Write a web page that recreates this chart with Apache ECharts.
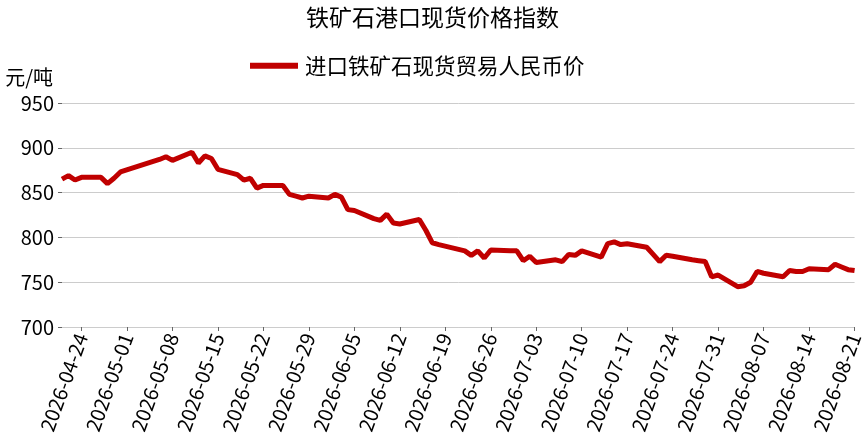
<!DOCTYPE html>
<html>
<head>
<meta charset="utf-8">
<script src="https://cdn.jsdelivr.net/npm/echarts@6/dist/echarts.min.js"></script>
<style>
  html, body { margin: 0; padding: 0; background: #fff; }
  #chart { width: 865px; height: 447px; }
</style>
</head>
<body>
<div id="chart"></div>
<script>
// trading days and index values (元/吨)
const tradeDates = [
  '2026-04-21', '2026-04-22', '2026-04-23', '2026-04-24', '2026-04-27', '2026-04-28', '2026-04-29', '2026-04-30',
  '2026-05-06', '2026-05-07', '2026-05-08', '2026-05-11', '2026-05-12', '2026-05-13', '2026-05-14', '2026-05-15',
  '2026-05-18', '2026-05-19', '2026-05-20', '2026-05-21', '2026-05-22', '2026-05-25', '2026-05-26', '2026-05-27',
  '2026-05-28', '2026-05-29', '2026-06-01', '2026-06-02', '2026-06-03', '2026-06-04', '2026-06-05', '2026-06-08',
  '2026-06-09', '2026-06-10', '2026-06-11', '2026-06-12', '2026-06-15', '2026-06-16', '2026-06-17', '2026-06-18',
  '2026-06-22', '2026-06-23', '2026-06-24', '2026-06-25', '2026-06-26', '2026-06-29', '2026-06-30', '2026-07-01',
  '2026-07-02', '2026-07-03', '2026-07-06', '2026-07-07', '2026-07-08', '2026-07-09', '2026-07-10', '2026-07-13',
  '2026-07-14', '2026-07-15', '2026-07-16', '2026-07-17', '2026-07-20', '2026-07-21', '2026-07-22', '2026-07-23',
  '2026-07-24', '2026-07-27', '2026-07-28', '2026-07-29', '2026-07-30', '2026-07-31', '2026-08-03', '2026-08-04',
  '2026-08-05', '2026-08-06', '2026-08-07', '2026-08-10', '2026-08-11', '2026-08-12', '2026-08-13', '2026-08-14',
  '2026-08-17', '2026-08-18', '2026-08-19', '2026-08-20', '2026-08-21'
];
const priceValues = [
  865, 869, 864, 867, 867, 860, 866, 873,
  887, 890, 886, 895, 883, 891, 888, 876,
  870, 864, 866, 855, 858, 858, 848, 846,
  844, 846, 844, 848, 845, 831, 830, 821,
  819, 826, 816, 815, 820, 808, 794, 792,
  785, 780, 785, 777, 786, 785, 785, 774,
  779, 772, 775, 773, 781, 780, 785, 778,
  793, 795, 792, 793, 789, 781, 773, 780,
  779, 775, 774, 773, 756, 758, 745, 746,
  750, 762, 760, 756, 763, 762, 762, 765,
  764, 770, 767, 764, 763
];
const tickLabels = [
  '2026-04-24', '2026-05-01', '2026-05-08', '2026-05-15', '2026-05-22', '2026-05-29',
  '2026-06-05', '2026-06-12', '2026-06-19', '2026-06-26', '2026-07-03', '2026-07-10',
  '2026-07-17', '2026-07-24', '2026-07-31', '2026-08-07', '2026-08-14', '2026-08-21'
];
const firstDay = '2026-04-21';
const lastDay = '2026-08-21';

// calendar days for the axis, so holidays and weekends keep their width
const days = [];
for (let t = Date.parse(firstDay); t <= Date.parse(lastDay); t += 86400000) {
  days.push(new Date(t).toISOString().slice(0, 10));
}
const seriesData = days.map(d => {
  const i = tradeDates.indexOf(d);
  return i >= 0 ? priceValues[i] : null;
});

const showTick = (index) => tickLabels.includes(days[index]);
const font = '"Noto Sans CJK SC", "Noto Sans", sans-serif';

const chart = echarts.init(document.getElementById('chart'));
chart.setOption({
  animation: false,
  title: {
    text: '铁矿石港口现货价格指数',
    left: 'center',
    top: 1,
    textStyle: { fontSize: 23, fontWeight: 'normal', color: '#000', fontFamily: font }
  },
  legend: {
    top: 50,
    left: 245,
    icon: 'rect',
    itemWidth: 48,
    itemHeight: 6,
    itemGap: 10,
    textStyle: { fontSize: 21.5, color: '#000', fontFamily: font, padding: [0, 0, 0, 2] }
  },
  grid: { left: 62, right: 5, top: 103, bottom: 120 },
  xAxis: {
    type: 'category',
    data: days,
    boundaryGap: false,
    axisLine: { lineStyle: { color: '#ccc' } },
    axisTick: { show: true, interval: showTick, length: 4, lineStyle: { color: '#666' } },
    axisLabel: {
      interval: showTick,
      rotate: 70,
      fontSize: 20,
      color: '#000',
      margin: 7,
      fontFamily: font
    },
    splitLine: { show: false }
  },
  yAxis: {
    type: 'value',
    min: 700,
    max: 950,
    interval: 50,
    name: '元/吨',
    nameLocation: 'end',
    nameGap: 16,
    nameTextStyle: { fontSize: 20, color: '#000', align: 'right', padding: [0, 9, 0, 0], fontFamily: font },
    axisLine: { show: false },
    axisTick: { show: true, length: 4, lineStyle: { color: '#666' } },
    axisLabel: { fontSize: 20, color: '#000', margin: 8, fontFamily: font },
    splitLine: { lineStyle: { color: '#ccc' } }
  },
  series: [
    {
      name: '进口铁矿石现货贸易人民币价',
      type: 'line',
      data: seriesData,
      connectNulls: true,
      symbol: 'none',
      lineStyle: { width: 5, color: '#c00000' },
      itemStyle: { color: '#c00000' }
    }
  ]
});
</script>
</body>
</html>
